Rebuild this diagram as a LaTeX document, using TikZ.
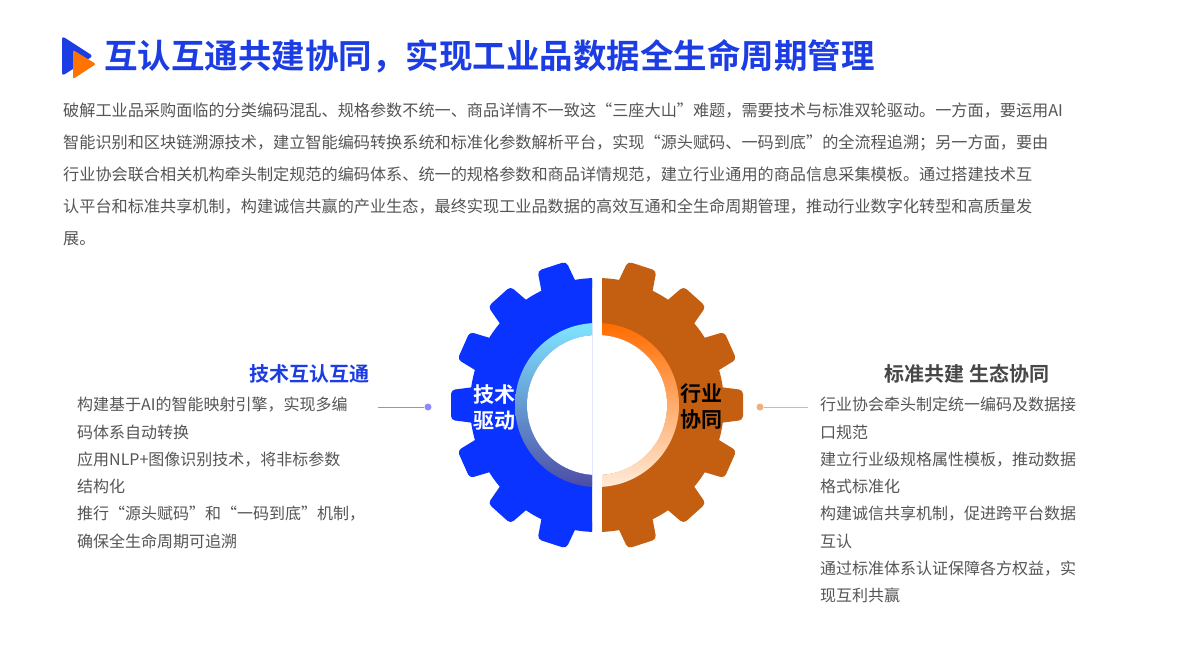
\documentclass[tikz,border=0pt]{standalone}
\usepackage{fontspec}
\setmainfont{Noto Sans CJK SC}
\newfontfamily\cjkb{Noto Sans CJK SC Bold}
\definecolor{tblue}{HTML}{1C3DE3}
\definecolor{gblue}{HTML}{0A33FF}
\definecolor{gorange}{HTML}{C45F12}
\definecolor{txt}{HTML}{555555}
\begin{document}
\begin{tikzpicture}[x=1pt,y=-1pt,
  para/.style={anchor=north west,inner sep=0pt,text=txt,font=\fontsize{16.15}{32}\selectfont,align=left},
  listtxt/.style={anchor=north west,inner sep=0pt,text=txt,font=\fontsize{16}{27.3}\selectfont,align=left},
  head/.style={inner sep=0pt,font=\cjkb\fontsize{20}{24}\selectfont},
  gtxt/.style={inner sep=0pt,font=\cjkb\fontsize{21}{26}\selectfont,align=center},
  tooth/.style={rounded corners=4pt}]
\useasboundingbox (0,0) rectangle (1190,669);
\fill[white] (0,0) rectangle (1190,669);
% logo
\fill[tblue,rounded corners=3pt] (62,36) -- (93,56) -- (62,76) -- cycle;
\fill[orange!90!red,rounded corners=2pt] (73,50) -- (96,64) -- (73,79) -- cycle;
\node[anchor=west,inner sep=0pt,text=tblue,font=\cjkb\fontsize{33.5}{36}\selectfont] (title) at (104,56) {互认互通共建协同，实现工业品数据全生命周期管理};
\node[para] (para) at (63,103) {%
破解工业品采购面临的分类编码混乱、规格参数不统一、商品详情不一致这“三座大山”难题，需要技术与标准双轮驱动。一方面，要运用AI\\
智能识别和区块链溯源技术，建立智能编码转换系统和标准化参数解析平台，实现“源头赋码、一码到底”的全流程追溯；另一方面，要由\\
行业协会联合相关机构牵头制定规范的编码体系、统一的规格参数和商品详情规范，建立行业通用的商品信息采集模板。通过搭建技术互\\
认平台和标准共享机制，构建诚信共赢的产业生态，最终实现工业品数据的高效互通和全生命周期管理，推动行业数字化转型和高质量发\\
展。};
% gears
\begin{scope}
\clip (440,250) rectangle (592,560);
\fill[gblue] (597,405) circle (127);
\foreach \a in {0,24,...,336}{
  \fill[gblue,tooth,shift={(597,405)},rotate=\a+180] (115,-19) -- (146,-15) -- (146,15) -- (115,19) -- cycle;}
\shade[top color=blue!20!cyan!50,bottom color=blue!50!black!70!white,even odd rule] (597,405) circle (82) (597,405) circle (70);
\fill[white] (597,405) circle (70);
\end{scope}
\begin{scope}
\clip (602,250) rectangle (760,560);
\fill[gorange] (597,405) circle (127);
\foreach \a in {0,24,...,336}{
  \fill[gorange,tooth,shift={(597,405)},rotate=\a] (115,-19) -- (146,-15) -- (146,15) -- (115,19) -- cycle;}
\shade[top color=orange!85!red,bottom color=orange!15,even odd rule] (597,405) circle (82) (597,405) circle (70);
\fill[white] (597,405) circle (70);
\end{scope}
\node[gtxt,text=white] (tl) at (494,407) {技术\\驱动};
\node[gtxt,text=black] (tr) at (701,407) {行业\\协同};
% left
\node[head,text=tblue,anchor=east] (hl) at (370,374) {技术互认互通};
\node[listtxt] (ll) at (77,397) {构建基于AI的智能映射引擎，实现多编\\码体系自动转换\\应用NLP+图像识别技术，将非标参数\\结构化\\推行“源头赋码”和“一码到底”机制，\\确保全生命周期可追溯};
\coordinate (la) at (378,407);
\node[circle,fill=blue!45!white,inner sep=0pt,minimum size=7pt] (ld) at (428,407) {};
\draw[blue!45!white,line width=0.8pt] (la) -- (ld);
% right
\node[head,text=black!72] (hr) at (967,374) {标准共建 生态协同};
\node[listtxt] (rl) at (820,397) {行业协会牵头制定统一编码及数据接\\口规范\\建立行业级规格属性模板，推动数据\\格式标准化\\构建诚信共享机制，促进跨平台数据\\互认\\通过标准体系认证保障各方权益，实\\现互利共赢};
\coordinate (ra) at (808,407);
\node[circle,fill=orange!50!brown!60!white,inner sep=0pt,minimum size=7pt] (rd) at (760,407) {};
\draw[orange!50!brown!60!white,line width=0.8pt] (rd) -- (ra);
\end{tikzpicture}
\end{document}
